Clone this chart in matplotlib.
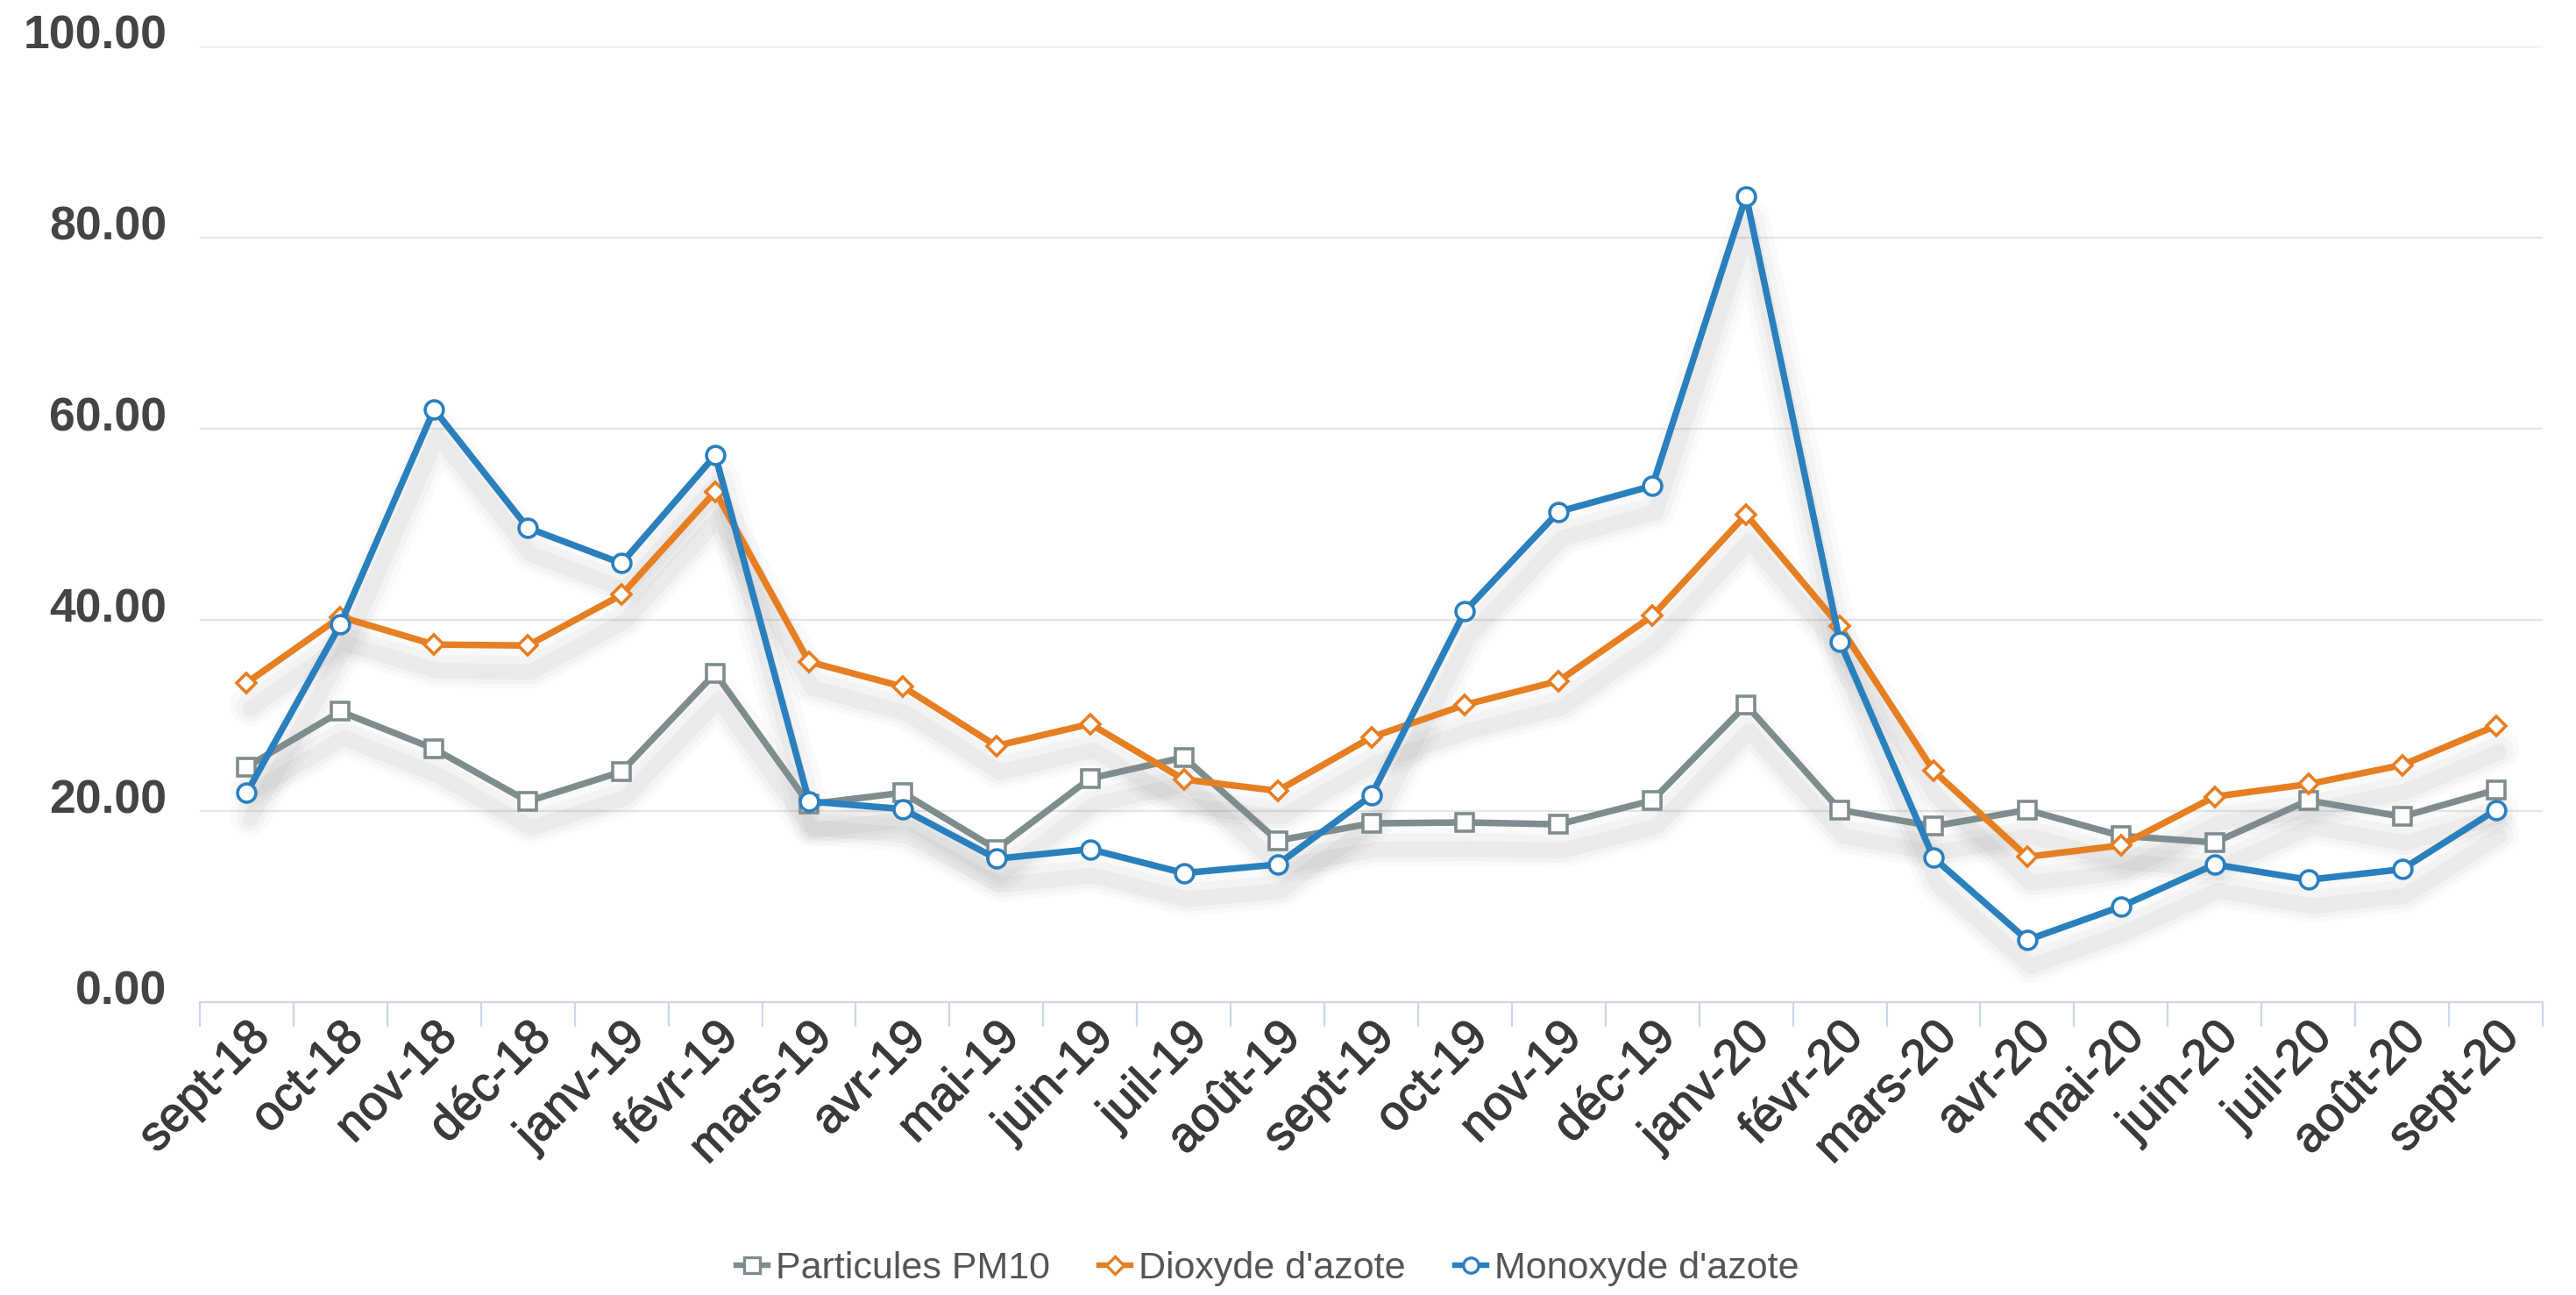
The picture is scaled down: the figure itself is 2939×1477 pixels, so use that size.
import matplotlib
matplotlib.use("Agg")
import matplotlib.pyplot as plt
from matplotlib.lines import Line2D
from matplotlib.ticker import FixedLocator
import matplotlib.transforms as mtransforms
import matplotlib.patheffects as pe
import numpy as np

plt.rcParams['font.family'] = ['Liberation Sans', 'DejaVu Sans']

months = ['sept-18', 'oct-18', 'nov-18', 'déc-18', 'janv-19', 'févr-19', 'mars-19',
          'avr-19', 'mai-19', 'juin-19', 'juil-19', 'août-19', 'sept-19', 'oct-19',
          'nov-19', 'déc-19', 'janv-20', 'févr-20', 'mars-20', 'avr-20', 'mai-20',
          'juin-20', 'juil-20', 'août-20', 'sept-20']
pm10 = [24.6, 30.4, 26.5, 21.0, 24.1, 34.4, 20.7, 21.9, 16.0, 23.4, 25.6, 16.9, 18.7,
        18.8, 18.6, 21.1, 31.1, 20.1, 18.4, 20.1, 17.4, 16.7, 21.1, 19.4, 22.2]
no2 = [33.4, 40.3, 37.4, 37.3, 42.6, 53.4, 35.6, 33.0, 26.8, 29.1, 23.3, 22.1, 27.7,
       31.1, 33.6, 40.4, 51.0, 39.3, 24.2, 15.2, 16.4, 21.5, 22.8, 24.8, 28.9]
no = [21.9, 39.5, 62.0, 49.6, 45.9, 57.2, 21.0, 20.2, 15.0, 16.0, 13.5, 14.4, 21.6,
      40.9, 51.3, 54.0, 84.3, 37.7, 15.1, 6.5, 10.0, 14.4, 12.8, 13.9, 20.1]
series_names = ['Particules PM10', "Dioxyde d'azote", "Monoxyde d'azote"]
y_ticks = [0, 20, 40, 60, 80, 100]

colors = ['#7f8c8d', '#e67e22', '#2a7fbd']
markers = ['s', 'D', 'o']
msizes = [15, 11, 15]

W, H = 2939, 1477
fig = plt.figure(figsize=(W / 100, H / 100), dpi=100)
left, right = 228 / W, 2901 / W
bottom, top = 1 - 1143 / H, 1 - 52.5 / H
ax = fig.add_axes([left, bottom, right - left, top - bottom])

x = np.arange(len(months))
ax.set_xlim(-0.5, len(months) - 0.5)
ax.set_ylim(0, 100)

# grid
for t in y_ticks[1:]:
    ax.axhline(t, color='#e6e6e6', lw=1.6, zorder=0)
for s in ['top', 'right', 'left']:
    ax.spines[s].set_visible(False)
ax.spines['bottom'].set_color('#ccd6eb')
ax.spines['bottom'].set_linewidth(1.6)

# soft shadows below the lines
data = [pm10, no2, no]
for d in data:
    for (dy, lw, a) in [(-26, 46, 0.028), (-28, 32, 0.038), (-30, 18, 0.05)]:
        tr = mtransforms.offset_copy(ax.transData, fig=fig, x=4, y=dy, units='dots')
        ax.plot(x, d, color='#505050', lw=lw / 1.389, alpha=a, transform=tr,
                solid_joinstyle='round', solid_capstyle='round', zorder=1)

for i, d in enumerate(data):
    ax.plot(x, d, color=colors[i], lw=5.4, marker=markers[i], ms=msizes[i],
            mfc='white', mec=colors[i], mew=2.6, zorder=3 + i,
            solid_joinstyle='round', clip_on=False)

# y ticks
ax.yaxis.set_major_locator(FixedLocator(y_ticks))
ax.set_yticklabels(['%.2f' % v for v in y_ticks])
ax.tick_params(axis='y', length=0, pad=27, labelsize=38.5, labelcolor='#444444')
shift_up = mtransforms.ScaledTranslation(0, 17 / 100, fig.dpi_scale_trans)
for lab in ax.get_yticklabels():
    lab.set_fontweight('bold')
    lab.set_transform(lab.get_transform() + shift_up)

# x ticks: labels at categories, tick marks at boundaries
ax.set_xticks(x)
ax.set_xticklabels(months, rotation=45, ha='right', va='top', rotation_mode='anchor')
ax.tick_params(axis='x', length=0, pad=10, labelsize=40, labelcolor='#3a3a3a')
for lab in ax.get_xticklabels():
    lab.set_path_effects([pe.withStroke(linewidth=0.9, foreground='#3a3a3a')])
ax.set_xticks(np.arange(len(months) + 1) - 0.5, minor=True)
ax.tick_params(axis='x', which='minor', length=20, width=1.6, color='#ccd6eb')

# legend
handles = [Line2D([0], [0], color=colors[i], lw=4.6, marker=markers[i],
                  ms=[12.5, 10, 12.5][i], mfc='white', mec=colors[i], mew=2.4)
           for i in range(3)]
leg = fig.legend(handles, series_names, loc='center', bbox_to_anchor=(0.492, 0.020),
                 ncol=3, frameon=False, fontsize=31, handlelength=0.85,
                 handletextpad=0.2, columnspacing=1.3, labelcolor='#555555')

fig.savefig('out.png', dpi=100, facecolor='white')
